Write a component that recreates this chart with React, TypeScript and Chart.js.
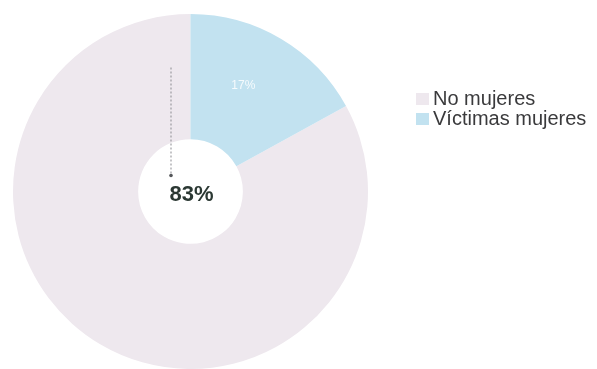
import React, { useEffect, useRef } from "react";
import { Chart, registerables } from "chart.js";

Chart.register(...registerables);

const categories = ["No mujeres", "Víctimas mujeres"];
const values = [83, 17];
const sliceLabels = ["83%", "17%"];
const colors = ["#eee8ee", "#c2e2f0"];

const FONT = "'Liberation Sans', Arial, Helvetica, sans-serif";

const overlay = {
  id: "overlay",
  afterDatasetsDraw(chart: any) {
    const ctx = chart.ctx;
    const meta = chart.getDatasetMeta(0);
    const arc0 = meta.data[0];
    const arc1 = meta.data[1];
    const cx = arc0.x;
    const cy = arc0.y;
    ctx.save();
    // dotted leader line
    ctx.strokeStyle = "#8a8a8f";
    ctx.lineWidth = 1;
    ctx.setLineDash([2, 2]);
    ctx.beginPath();
    ctx.moveTo(cx - 19.5, cy - 124);
    ctx.lineTo(cx - 19.5, cy - 17);
    ctx.stroke();
    ctx.setLineDash([]);
    ctx.fillStyle = "#55575a";
    ctx.beginPath();
    ctx.arc(cx - 19.5, cy - 16, 1.8, 0, Math.PI * 2);
    ctx.fill();
    // center label
    ctx.fillStyle = "#2b3833";
    ctx.font = `bold 22px ${FONT}`;
    ctx.textAlign = "center";
    ctx.textBaseline = "middle";
    ctx.fillText(sliceLabels[0], cx + 1, cy + 3);
    // small slice label
    const mid = (arc1.startAngle + arc1.endAngle) / 2 - 0.07;
    const r = 118;
    ctx.fillStyle = "rgba(255,255,255,0.85)";
    ctx.font = `12px ${FONT}`;
    ctx.fillText(sliceLabels[1], cx + r * Math.cos(mid), cy + r * Math.sin(mid));
    // legend
    const lx = 433;
    const ys = [99, 119];
    ctx.textAlign = "left";
    ctx.font = `20px ${FONT}`;
    categories.forEach((c, i) => {
      ctx.fillStyle = colors[i];
      ctx.fillRect(lx - 17, ys[i] - 6, 13, 12);
      ctx.fillStyle = "#3a3a3c";
      ctx.fillText(c, lx, ys[i]);
    });
    ctx.restore();
  },
};

export default function App() {
  const ref = useRef<HTMLCanvasElement | null>(null);
  useEffect(() => {
    if (!ref.current) return;
    const chart = new Chart(ref.current, {
      type: "doughnut",
      data: {
        labels: categories,
        datasets: [
          {
            data: values,
            backgroundColor: colors,
            borderWidth: 0,
          },
        ],
      },
      options: {
        animation: false,
        responsive: true,
        maintainAspectRatio: false,
        cutout: "29.5%",
        rotation: (values[1] / (values[0] + values[1])) * 360,
        layout: { padding: { left: 12, top: 14, right: 228, bottom: 0 } },
        plugins: {
          legend: { display: false },
          tooltip: { enabled: false },
        },
      },
      plugins: [overlay],
    });
    return () => chart.destroy();
  }, []);
  return (
    <div style={{ position: "fixed", left: 0, top: 0, width: 597, height: 369, background: "#fff" }}>
      <canvas ref={ref} />
    </div>
  );
}
